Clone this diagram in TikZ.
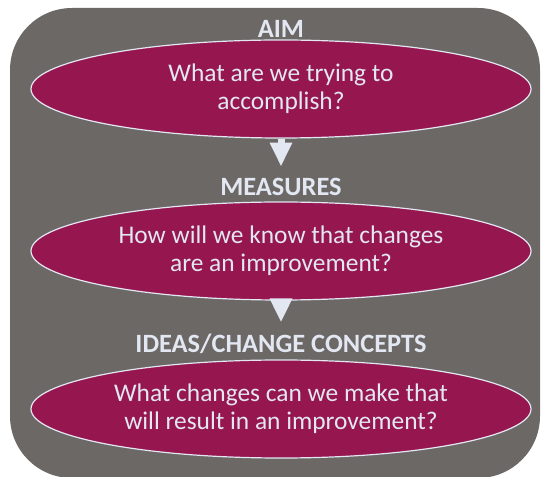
\documentclass[tikz,border=0pt]{standalone}
\usepackage{fontspec}
\setmainfont{Carlito}
\usepackage{tikz}
\usetikzlibrary{shapes.geometric}
\usetikzlibrary{arrows.meta}
\usetikzlibrary{positioning}
\definecolor{boxgray}{RGB}{108,104,102}
\definecolor{plum}{RGB}{150,22,80}
\definecolor{pale}{RGB}{226,231,242}

\begin{document}
\begin{tikzpicture}[line join=bevel,
  question/.style={draw=pale,fill=plum,ellipse,line width=1.2bp,minimum width=500bp,minimum height=98bp,inner sep=0pt,text=pale,align=center,font=\fontsize{25.5}{28}\selectfont},
  heading/.style={text=pale,inner sep=0pt,font=\fontsize{26.5}{28}\selectfont\bfseries},
  down/.style={draw=pale,line width=7bp,-{Triangle[width=21bp,length=24bp]},shorten <=0.6bp,shorten >=11bp}]
%%
\useasboundingbox (0bp,0bp) rectangle (543bp,477bp);
\fill [boxgray,rounded corners=62bp] (10bp,-1bp) rectangle (540bp,469bp);
  \node (aim_h) at (281bp,448bp) [heading] {AIM};
  \node (measures_h) at (281bp,290.5bp) [heading] {MEASURES};
  \node (ideas_h) at (281bp,133.5bp) [heading] {IDEAS/CHANGE CONCEPTS};
  \node (aim) at (281bp,388bp) [question] {What are we trying to\\accomplish?};
  \node (measures) at (281bp,226bp) [question] {How will we know that changes\\are an improvement?};
  \node (ideas) at (281bp,68bp) [question] {What changes can we make that\\will result in an improvement?};
  \draw [down] (aim.south) -- (measures_h.north);
  \draw [down] (measures.south) -- (ideas_h.north);
%
\end{tikzpicture}
\end{document}
